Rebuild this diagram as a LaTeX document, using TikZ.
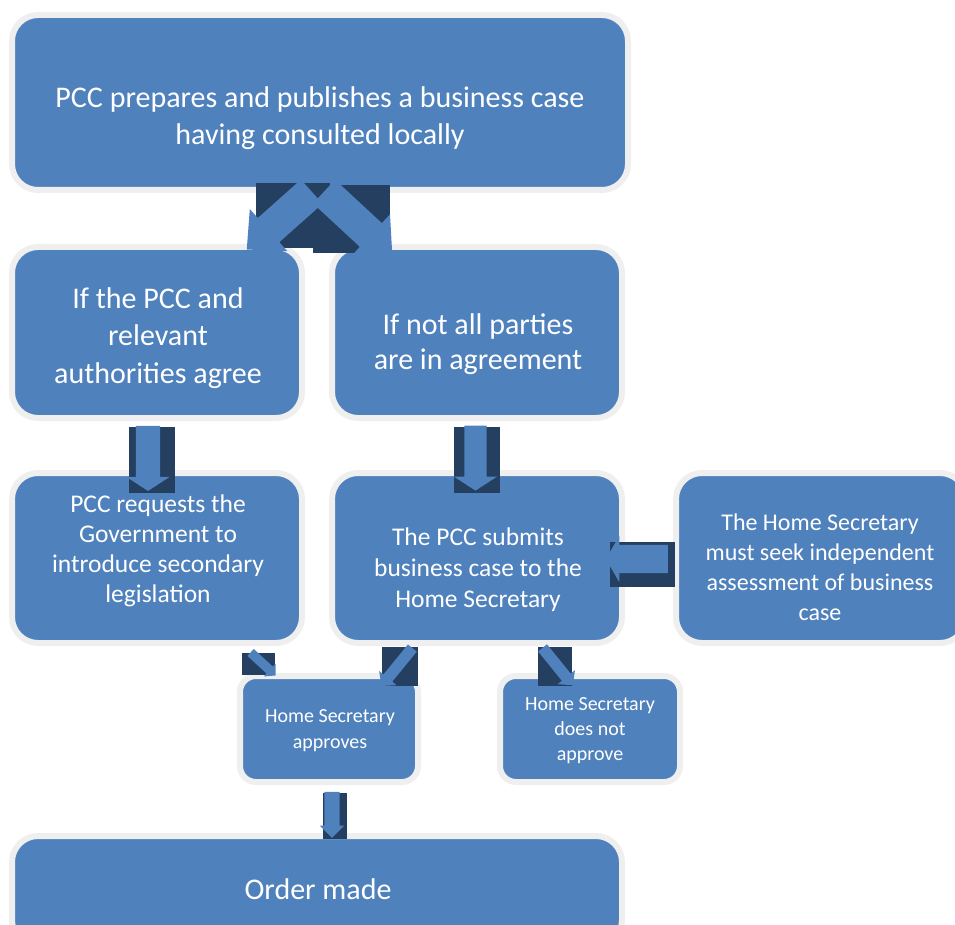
\documentclass[tikz,border=0pt]{standalone}
\usepackage{fontspec}
\setmainfont{Carlito}
\usetikzlibrary{shapes.arrows}
\definecolor{boxblue}{HTML}{4F81BD}
\definecolor{navy}{HTML}{243F60}
\definecolor{rim}{HTML}{EFEFEF}
\tikzset{
  box/.style={fill=boxblue, draw=rim, line width=6pt, rounded corners=26pt, inner sep=0pt},
  smallbox/.style={box, rounded corners=16pt},
  txt/.style={text=white, align=center, inner sep=0pt},
  shade/.style={fill=navy, draw=none, inner sep=0pt},
  barrow/.style={single arrow, fill=boxblue, draw=none, single arrow head indent=0pt, transform shape}
}
\begin{document}
\begin{tikzpicture}[x=1pt,y=-1pt]
\useasboundingbox (0,0) rectangle (955,925);
\clip (0,0) rectangle (955,925);
% boxes
\node[box, minimum width=616pt, minimum height=175pt] (top) at (320,102.5) {};
\node[box, minimum width=290pt, minimum height=171pt] (agree) at (157,332.5) {};
\node[box, minimum width=290pt, minimum height=171pt] (notall) at (477,332.5) {};
\node[box, minimum width=290pt, minimum height=170pt] (req) at (157,558) {};
\node[box, minimum width=290pt, minimum height=170pt] (submit) at (477,558) {};
\node[box, minimum width=290pt, minimum height=170pt] (seek) at (821,558) {};
\node[smallbox, minimum width=178pt, minimum height=106pt] (appr) at (329,729) {};
\node[smallbox, minimum width=180pt, minimum height=106pt] (notappr) at (590,729) {};
\node[box, minimum width=610pt, minimum height=110pt] (order) at (317,891) {};
% texts
\node[txt, font=\fontsize{30}{37}\selectfont] (ttop) at (320,118) {PCC prepares and publishes a business case\\having consulted locally};
\node[txt, font=\fontsize{30}{37.5}\selectfont] (tagree) at (158,338) {If the PCC and\\relevant\\authorities agree};
\node[txt, font=\fontsize{30}{35}\selectfont] (tnotall) at (478,344) {If not all parties\\are in agreement};
\node[txt, font=\fontsize{25.5}{30}\selectfont] (treq) at (158,551) {PCC requests the\\Government to\\introduce secondary\\legislation};
\node[txt, font=\fontsize{25.5}{31}\selectfont] (tsubmit) at (478,570) {The PCC submits\\business case to the\\Home Secretary};
\node[txt, font=\fontsize{24}{30}\selectfont] (tseek) at (820,567) {The Home Secretary\\must seek independent\\assessment of business\\case};
\node[txt, font=\fontsize{20}{26}\selectfont] (tappr) at (330,731) {Home Secretary\\approves};
\node[txt, font=\fontsize{20}{25}\selectfont] (tnotappr) at (590,731) {Home Secretary\\does not\\approve};
\node[txt, font=\fontsize{30}{30}\selectfont] (torder) at (318,889) {Order made};
% dark backing squares
\node[shade, minimum width=74pt, minimum height=65pt] (s1) at (293,215.5) {};
\node[shade, minimum width=77pt, minimum height=68pt] (s2) at (351.5,219) {};
\node[shade, minimum width=46pt, minimum height=66pt] (s3) at (152,460) {};
\node[shade, minimum width=46pt, minimum height=66pt] (s4) at (477,460) {};
\node[shade, minimum width=65pt, minimum height=45pt] (s5) at (642.5,564.5) {};
\node[shade, minimum width=33pt, minimum height=22pt] (s6) at (258.5,664) {};
\node[shade, minimum width=36pt, minimum height=39pt] (s7) at (400,666.5) {};
\node[shade, minimum width=34pt, minimum height=39pt] (s8) at (555,666.5) {};
\node[shade, minimum width=24pt, minimum height=46pt] (s9) at (335,816) {};
% block arrows
\node[barrow, minimum height=87pt, inner sep=16pt, single arrow head extend=12pt, single arrow tip angle=88, rotate=221.7] (a1) at (285.5,215) {};
\node[barrow, minimum height=93pt, inner sep=16pt, single arrow head extend=12pt, single arrow tip angle=88, rotate=-42.8] (a2) at (352,217.5) {};
\node[barrow, minimum height=65pt, inner sep=12pt, single arrow head extend=9.5pt, single arrow tip angle=114, rotate=-90] (a3) at (148,454.5) {};
\node[barrow, minimum height=65pt, inner sep=11pt, single arrow head extend=10.5pt, single arrow tip angle=114, rotate=-90] (a4) at (475.5,454.5) {};
\node[barrow, minimum height=62pt, inner sep=14pt, single arrow head extend=9pt, single arrow tip angle=120, rotate=180] (a5) at (641,559) {};
\node[barrow, minimum height=34pt, inner sep=4.5pt, single arrow head extend=4pt, single arrow tip angle=95, rotate=-42.6] (a6) at (261.5,662.5) {};
\node[barrow, minimum height=49pt, inner sep=5.5pt, single arrow head extend=5.5pt, single arrow tip angle=95, rotate=230.8] (a7) at (398.5,665) {};
\node[barrow, minimum height=48pt, inner sep=5.5pt, single arrow head extend=5.5pt, single arrow tip angle=95, rotate=-51] (a8) at (556,664.5) {};
\node[barrow, minimum height=46pt, inner sep=7.5pt, single arrow head extend=4.5pt, single arrow tip angle=90, rotate=-90] (a9) at (332,811) {};
\end{tikzpicture}
\end{document}
